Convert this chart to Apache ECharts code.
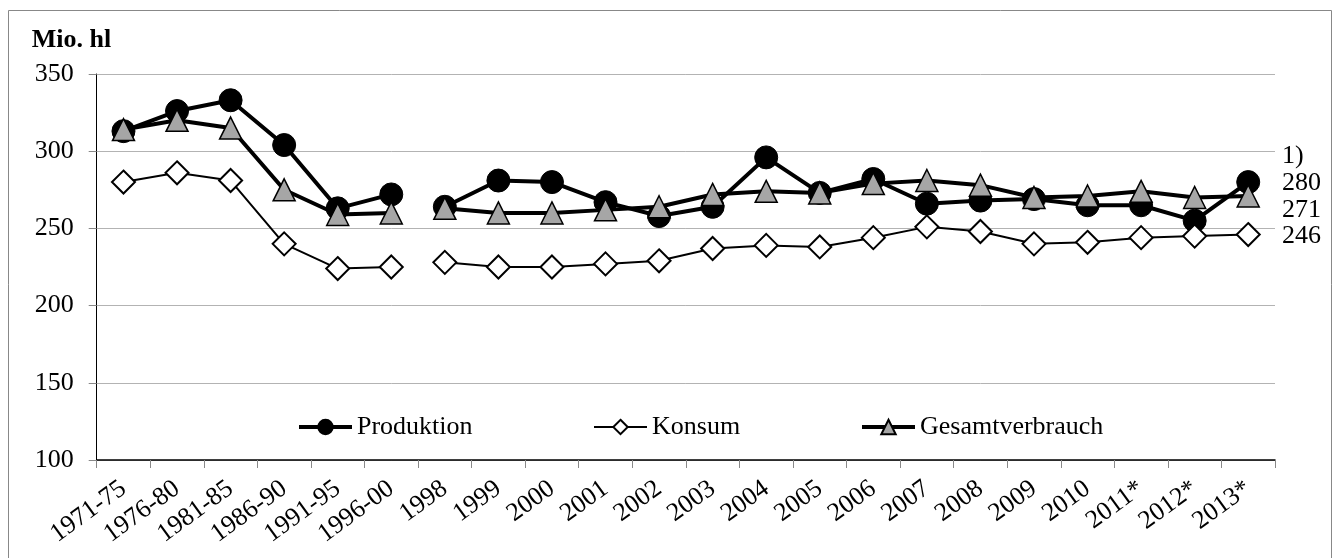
<!DOCTYPE html>
<html>
<head>
<meta charset="utf-8">
<script src="https://cdn.jsdelivr.net/npm/echarts@6/dist/echarts.min.js"></script>
<style>
  html, body { margin: 0; padding: 0; background: #fff; }
  #chart { width: 1333px; height: 558px; }
</style>
</head>
<body>
<div id="chart"></div>
<script>
  const categories = ['1971-75', '1976-80', '1981-85', '1986-90', '1991-95', '1996-00',
    '1998', '1999', '2000', '2001', '2002', '2003', '2004', '2005', '2006', '2007',
    '2008', '2009', '2010', '2011*', '2012*', '2013*']
  const produktion = [313, 326, 333, 304, 263, 272,
    264, 281, 280, 267, 258, 264, 296, 273, 282, 266, 268, 269, 265, 265, 255, 280]
  const konsum = [280, 286, 281, 240, 224, 225,
    228, 225, 225, 227, 229, 237, 239, 238, 244, 251, 248, 240, 241, 244, 245, 246]
  const gesamtverbrauch = [314, 320, 315, 275, 259, 260,
    263, 260, 260, 262, 264, 272, 274, 273, 279, 281, 278, 270, 271, 274, 270, 271]
  const yTicks = [100, 150, 200, 250, 300, 350]
  // the series are broken between 1996-00 and 1998
  const breakAt = 6

  const serif = '"Liberation Serif", "DejaVu Serif", serif'

  function part(arr, first) {
    return arr.map((v, i) => (first ? i < breakAt : i >= breakAt) ? v : null)
  }

  const styles = {
    Produktion: {
      symbol: 'circle', symbolSize: 23,
      itemStyle: { color: '#000', borderColor: '#000', borderWidth: 1 },
      lineStyle: { color: '#000', width: 4 }
    },
    Konsum: {
      symbol: 'diamond', symbolSize: 23,
      itemStyle: { color: '#fff', borderColor: '#000', borderWidth: 2 },
      lineStyle: { color: '#000', width: 2 }
    },
    Gesamtverbrauch: {
      symbol: 'triangle', symbolSize: [22, 22],
      itemStyle: { color: '#a6a6a6', borderColor: '#000', borderWidth: 1.5 },
      lineStyle: { color: '#000', width: 4 }
    }
  }

  const series = []
  const sets = [['Produktion', produktion], ['Konsum', konsum], ['Gesamtverbrauch', gesamtverbrauch]]
  sets.forEach(([name, arr]) => {
    [true, false].forEach(first => {
      series.push(Object.assign({
        name: name,
        type: 'line',
        data: part(arr, first),
        connectNulls: false,
        showAllSymbol: true,
        emphasis: { disabled: true }
      }, styles[name]))
    })
  })

  function legendAt(name, left, lineWidth) {
    return {
      data: [name],
      left: left,
      top: 409,
      itemWidth: 53,
      itemHeight: 18,
      itemGap: 5,
      selectedMode: false,
      lineStyle: { width: lineWidth },
      textStyle: { fontFamily: serif, fontSize: 26, color: '#000', lineHeight: 26 }
    }
  }

  const lastLabels = ['1)', String(produktion[produktion.length - 1]),
    String(gesamtverbrauch[gesamtverbrauch.length - 1]), String(konsum[konsum.length - 1])]
  const lastY = [156, 183, 210, 236]

  const myChart = echarts.init(document.getElementById('chart'))
  const option = {
    animation: false,
    backgroundColor: '#fff',
    grid: { left: 96.7, right: 58, top: 74, bottom: 98, containLabel: false },
    legend: [
      legendAt('Produktion', 292, 4),
      legendAt('Konsum', 588, 2),
      legendAt('Gesamtverbrauch', 855, 4)
    ],
    xAxis: {
      type: 'category',
      data: categories,
      boundaryGap: true,
      axisLine: { lineStyle: { color: '#000', width: 1.5 } },
      axisTick: { show: true, length: 8, lineStyle: { color: '#888' } },
      axisLabel: {
        interval: 0,
        rotate: 36,
        margin: 26,
        fontFamily: serif,
        fontSize: 26,
        color: '#000'
      },
      splitLine: { show: false }
    },
    yAxis: {
      type: 'value',
      min: yTicks[0],
      max: yTicks[yTicks.length - 1],
      interval: 50,
      name: 'Mio. hl',
      nameLocation: 'end',
      nameGap: 34,
      nameTextStyle: {
        fontFamily: serif, fontSize: 26, fontWeight: 'bold', color: '#000',
        align: 'left', verticalAlign: 'middle', padding: [0, 0, 0, -65]
      },
      axisLine: { show: true, lineStyle: { color: '#000', width: 1 } },
      axisTick: { show: true, length: 8, lineStyle: { color: '#888' } },
      axisLabel: { margin: 23, fontFamily: serif, fontSize: 26, color: '#000' },
      splitLine: { lineStyle: { color: '#b3b3b3', width: 1 } }
    },
    graphic: [
      {
        type: 'rect',
        shape: { x: 8.5, y: 10.5, width: 1323, height: 560 },
        style: { fill: 'none', stroke: '#888', lineWidth: 1 },
        silent: true
      }
    ].concat(lastLabels.map((t, i) => ({
      type: 'text',
      left: 1282,
      top: lastY[i] - 13,
      style: { text: t, font: '26px ' + serif, fill: '#000' },
      silent: true
    }))),
    series: series
  }
  myChart.setOption(option)
</script>
</body>
</html>
